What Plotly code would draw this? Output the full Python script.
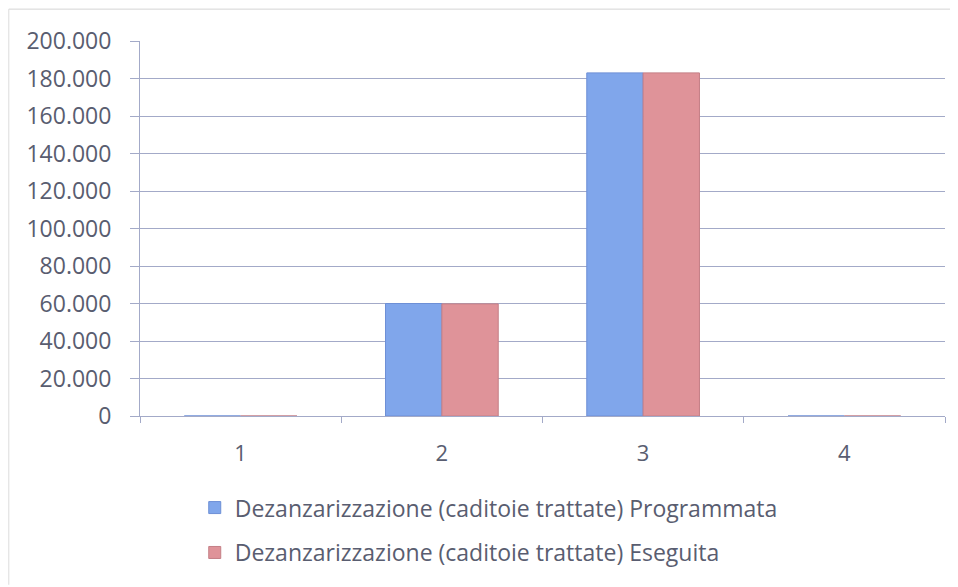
import plotly.graph_objects as go

categories = [1, 2, 3, 4]
tick_labels = ["1", "2", "3", "4"]
programmata = [0, 60000, 183000, 0]
eseguita = [0, 59800, 183000, 0]
name_prog = "Dezanzarizzazione (caditoie trattate) Programmata"
name_eseg = "Dezanzarizzazione (caditoie trattate) Eseguita"
y_ticks = [0, 20000, 40000, 60000, 80000, 100000, 120000, 140000, 160000, 180000, 200000]

font_family = "Open Sans, Noto Sans, sans-serif"
text_color = "#595d70"
grid_color = "#a3aac8"

fig = go.Figure()
fig.add_trace(go.Bar(
    x=categories, y=programmata, name=name_prog,
    marker=dict(color="#80a6eb", line=dict(color="#6d8fd6", width=1)),
    legendgroup="a",
))
fig.add_trace(go.Bar(
    x=categories, y=eseguita, name=name_eseg,
    marker=dict(color="#df9399", line=dict(color="#c47f86", width=1)),
    legendgroup="b",
))

fig.update_layout(
    width=958, height=587,
    margin=dict(l=132, r=21, t=33, b=179),
    paper_bgcolor="white", plot_bgcolor="white",
    barmode="group", bargap=0.44, bargroupgap=0,
    separators=",.",
    font=dict(family=font_family, size=23, color=text_color),
    showlegend=True,
    legend=dict(
        orientation="v", x=0.068, xanchor="left", y=-0.187, yanchor="top",
        font=dict(size=23, color=text_color),
        traceorder="grouped", tracegroupgap=12,
        itemwidth=30,
    ),
    xaxis=dict(
        range=[0.5, 4.5], tickvals=categories, ticktext=tick_labels,
        ticks="", showgrid=False, showline=True, linecolor=grid_color, linewidth=1,
        minor=dict(tick0=0.5, dtick=1, ticks="outside", ticklen=6, tickcolor=grid_color, showgrid=False),
        tickfont=dict(size=22, color=text_color), ticklabelstandoff=18,
        zeroline=False,
    ),
    yaxis=dict(
        range=[0, 200000], tickvals=y_ticks, tickformat=",d",
        showgrid=True, gridcolor=grid_color, gridwidth=1,
        showline=True, linecolor=grid_color, linewidth=1,
        ticks="outside", ticklen=9, tickcolor=grid_color,
        tickfont=dict(size=23, color=text_color), ticklabelstandoff=14,
        zeroline=False,
    ),
    shapes=[
        dict(type="line", xref="paper", yref="paper", x0=-0.163, x1=1.02, y0=1.085, y1=1.085,
             line=dict(color="#d4d4d4", width=1)),
        dict(type="line", xref="paper", yref="paper", x0=-0.163, x1=-0.163, y0=1.085, y1=-0.45,
             line=dict(color="#dcdcdc", width=1)),
    ],
)

fig.write_html("out.html")
